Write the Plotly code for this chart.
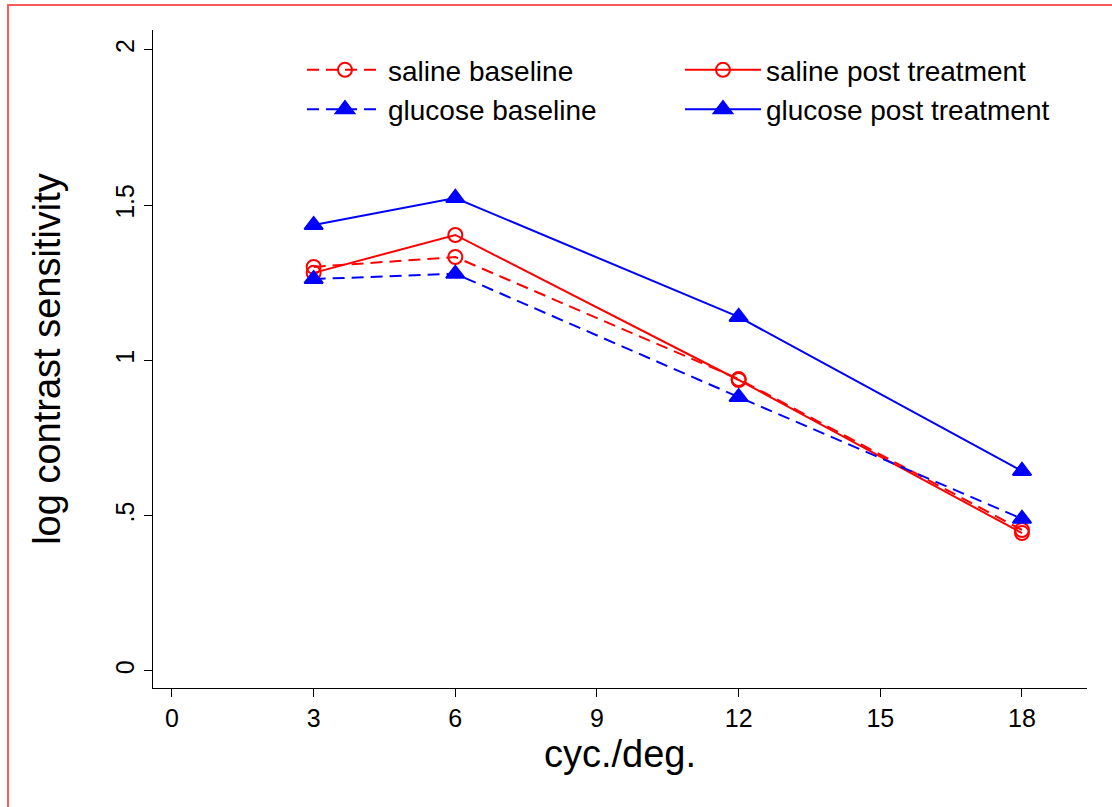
import plotly.graph_objects as go

# spatial frequency (cycles per degree)
freq = [3, 6, 12, 18]

# log contrast sensitivity per group and session
saline_baseline = [1.301, 1.333, 0.940, 0.454]
saline_post = [1.282, 1.404, 0.937, 0.444]
glucose_baseline = [1.262, 1.279, 0.882, 0.490]
glucose_post = [1.436, 1.523, 1.140, 0.644]

x_ticks = [0, 3, 6, 9, 12, 15, 18]
y_ticks = [0, 0.5, 1, 1.5, 2]
y_tick_text = ["0", ".5", "1", "1.5", "2"]

FONT = "Liberation Sans, Arial, Helvetica, sans-serif"
RED = "#ff0000"
BLUE = "#0000ff"
DASH = "12px,7px"

fig = go.Figure()

series = [
    ("saline baseline", saline_baseline, RED, DASH, "circle-open", 14),
    ("saline post treatment", saline_post, RED, "solid", "circle-open", 14),
    ("glucose baseline", glucose_baseline, BLUE, DASH, "triangle-up", 16),
    ("glucose post treatment", glucose_post, BLUE, "solid", "triangle-up", 16),
]

for name, vals, color, dash, symbol, size in series:
    fig.add_trace(go.Scatter(
        x=freq, y=vals, name=name, mode="lines+markers",
        line=dict(color=color, width=2, dash=dash),
        marker=dict(symbol=symbol, size=size, color=color,
                    line=dict(color=color, width=2)),
    ))

fig.update_layout(
    width=1112, height=807,
    margin=dict(l=153, r=25, t=30, b=119),
    paper_bgcolor="white", plot_bgcolor="white",
    font=dict(family=FONT, color="black"),
    showlegend=True,
    legend=dict(
        orientation="h", x=0.1595, y=0.977, xanchor="left", yanchor="top",
        entrywidth=287, entrywidthmode="pixels",
        font=dict(size=28, family=FONT), bgcolor="rgba(0,0,0,0)",
        itemwidth=76, tracegroupgap=0,
    ),
    xaxis=dict(
        range=[-0.402, 19.377], tickmode="array", tickvals=x_ticks,
        showgrid=False, zeroline=False, showline=True, linecolor="black",
        linewidth=1, ticks="outside", ticklen=8, tickcolor="black",
        tickfont=dict(size=25), mirror=False,
        title=dict(text="cyc./deg.", font=dict(size=38), standoff=9),
    ),
    yaxis=dict(
        range=[-0.0548, 2.064], tickmode="array", tickvals=y_ticks,
        ticktext=y_tick_text, tickangle=-90,
        showgrid=False, zeroline=False, showline=True, linecolor="black",
        linewidth=1, ticks="outside", ticklen=8, tickcolor="black",
        tickfont=dict(size=25), mirror=False,
        title=dict(text="log contrast sensitivity", font=dict(size=38), standoff=38),
    ),
    shapes=[dict(
        type="rect", xref="paper", yref="paper",
        x0=(8 - 153) / 934, x1=1.2, y0=-0.3, y1=(688 - 5) / 658,
        line=dict(color="rgba(255,60,60,0.85)", width=2), fillcolor="rgba(0,0,0,0)",
        layer="below",
    )],
)

fig.write_html("out.html")
